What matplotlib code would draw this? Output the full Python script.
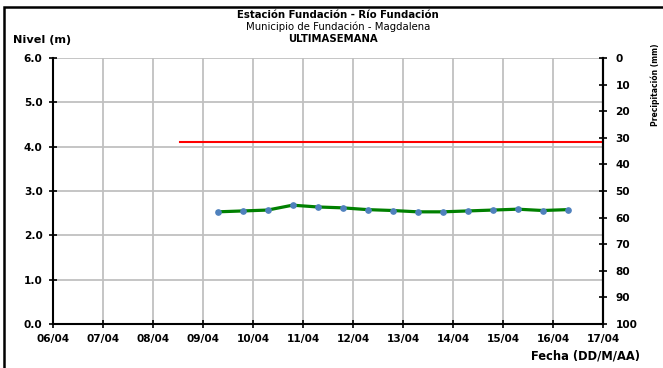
import matplotlib
matplotlib.use("Agg")
import matplotlib.pyplot as plt
import matplotlib.dates as mdates
from matplotlib.patches import Rectangle
import pandas as pd

plt.rcParams['font.family'] = ['DejaVu Sans']

# --- data ---
level_times = pd.date_range("2024-04-09 07:00", periods=15, freq="12h")
level_values = [2.53, 2.55, 2.57, 2.68, 2.64, 2.62, 2.58, 2.56, 2.53, 2.53,
                2.55, 2.57, 2.59, 2.56, 2.58]
alert_times = pd.to_datetime(["2024-04-08 13:00", "2024-04-17 00:00"])
alert_values = [4.1, 4.1]
x_start, x_end = pd.Timestamp("2024-04-06"), pd.Timestamp("2024-04-17")
y_ticks = [0.0, 1.0, 2.0, 3.0, 4.0, 5.0, 6.0]
precip_ticks = list(range(0, 101, 10))

title1 = "Estación Fundación - Río Fundación"
title2 = "Municipio de Fundación - Magdalena"
title3 = "ULTIMASEMANA"
ylabel = "Nivel (m)"
xlabel = "Fecha (DD/M/AA)"
y2label = "Precipitación (mm)"

W, H = 663, 368
fig = plt.figure(figsize=(6.63, 3.68), dpi=100)
renderer = fig.canvas.get_renderer()


def fit_text(x, y, s, width_px, **kw):
    t = fig.text(x / W, 1 - y / H, s, fontsize=10, **kw)
    bb = t.get_window_extent(renderer)
    t.set_fontsize(10 * width_px / bb.width)
    return t


ax = fig.add_axes([53 / W, 1 - 324 / H, (603 - 53) / W, (324 - 58) / H])

ax.plot(alert_times, alert_values, color='#ff0000', lw=1.5, zorder=3)
ax.plot(level_times, level_values, color='#008000', lw=2.3, zorder=4,
        marker='o', ms=3.8, mfc='#4f81bd', mec='#4f81bd')

ax.set_xlim(x_start, x_end)
ax.set_ylim(0, 6)
ax.set_yticks(y_ticks)
ax.set_yticklabels([f"{v:.1f}" for v in y_ticks])
ax.xaxis.set_major_locator(mdates.DayLocator())
ax.xaxis.set_major_formatter(mdates.DateFormatter("%d/%m"))
ax.grid(True, color='#c0c0c0', lw=1.3)
ax.set_axisbelow(True)

ax.spines['top'].set_visible(False)
for s in ['left', 'bottom', 'right']:
    ax.spines[s].set_color('black')
    ax.spines[s].set_linewidth(1.5)

tick_fs = 7.6
ax.tick_params(axis='both', direction='inout', length=6, width=1.2,
               labelsize=tick_fs, pad=4.5)
for lab in ax.get_xticklabels() + ax.get_yticklabels():
    lab.set_fontweight('bold')

ax2 = ax.twinx()
ax2.set_ylim(100, 0)
ax2.set_yticks(precip_ticks)
ax2.set_yticklabels([str(v) for v in precip_ticks])
for s in ['top', 'left', 'bottom']:
    ax2.spines[s].set_visible(False)
ax2.spines['right'].set_color('black')
ax2.spines['right'].set_linewidth(1.5)
ax2.tick_params(axis='y', direction='inout', length=6, width=1.2,
                labelsize=tick_fs, pad=6)
for lab in ax2.get_yticklabels():
    lab.set_fontweight('bold')

# titles
fs_title = 7.3
fig.text(338 / W, 1 - 18.5 / H, title1, ha='center', va='baseline',
         fontsize=fs_title, fontweight='bold')
fig.text(338 / W, 1 - 30.5 / H, title2, ha='center', va='baseline',
         fontsize=fs_title)
fig.text(333 / W, 1 - 42.5 / H, title3, ha='center', va='baseline',
         fontsize=fs_title, fontweight='bold')
fit_text(13, 43.3, ylabel, 58, ha='left', va='baseline', fontweight='bold')
fit_text(640, 356, xlabel, 110, ha='right', va='center', fontweight='bold')
fig.text(655 / W, 1 - 85 / H, y2label, ha='center', va='center',
         rotation=90, fontsize=5.5, fontweight='bold')

# outer frame
fig.patches.append(Rectangle((4 / W, -0.05), 1.1, 1 - 6.5 / H + 0.05,
                             transform=fig.transFigure, fill=False,
                             edgecolor='black', lw=1.8))

fig.savefig("out.png", dpi=100)
